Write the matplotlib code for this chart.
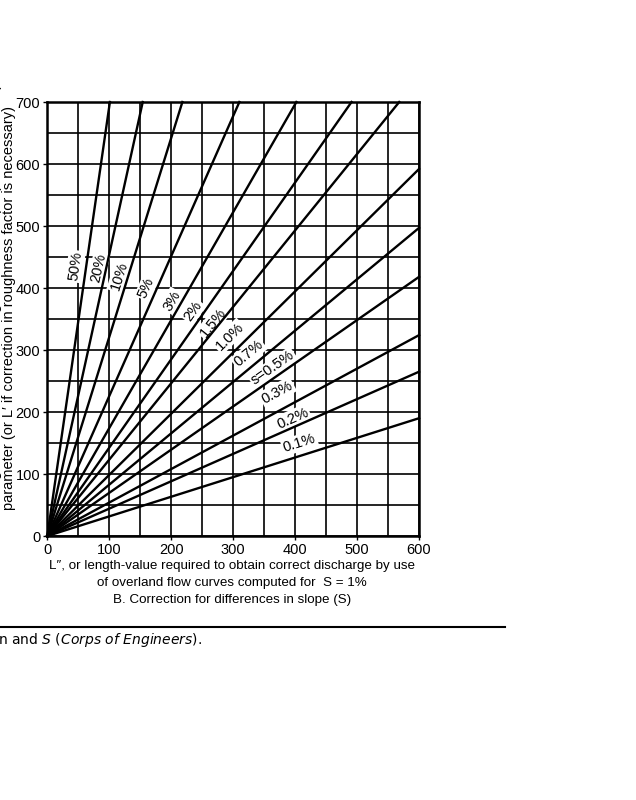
import numpy as np
import matplotlib.pyplot as plt
from matplotlib.lines import Line2D

plt.rcParams['font.family'] = ['Liberation Sans', 'DejaVu Sans']

# slope lines: where each one leaves the frame (L'', L)
slope_labels = ["50%", "20%", "10%", "5%", "3%", "2%", "1.5%", "1.0%",
                "0.7%", "s=0.5%", "0.3%", "0.2%", "0.1%"]
end_x = [101, 154, 218, 310, 402, 491, 568, 600, 600, 600, 600, 600, 600]
end_y = [700, 700, 700, 700, 700, 700, 700, 592, 497, 418, 324, 265, 190]
# where the slope labels sit
lab_x = [45, 83, 116, 160, 201, 235, 267, 294, 325, 364, 371, 396, 407]
lab_y = [435, 432, 419, 400, 379, 363, 344, 322, 294, 271, 232, 190, 150]

x_ticks = [0, 100, 200, 300, 400, 500, 600]
y_ticks = [0, 100, 200, 300, 400, 500, 600, 700]

fig = plt.figure(figsize=(6.36, 8.0), dpi=100)
ax = fig.add_axes([0.0744, 0.33, 0.5845, 0.5425])
ax.set_xlim(0, 600)
ax.set_ylim(0, 700)

ax.set_xticks(x_ticks)
ax.set_yticks(y_ticks)
ax.set_xticks(np.arange(0, 601, 50), minor=True)
ax.set_yticks(np.arange(0, 701, 50), minor=True)
ax.grid(which='both', color='black', linewidth=1.2, zorder=1)
ax.set_axisbelow(True)
ax.tick_params(which='minor', length=0)
ax.tick_params(which='major', length=3, width=1, labelsize=10.5, pad=2)
for s in ax.spines.values():
    s.set_linewidth(1.8)

for lab, xe, ye, xl, yl in zip(slope_labels, end_x, end_y, lab_x, lab_y):
    ax.plot([0, xe], [0, ye], color='black', linewidth=1.7, zorder=4,
            clip_on=False)
    ang = np.degrees(np.arctan2(ye, xe))
    ax.text(xl, yl, lab, rotation=ang, rotation_mode='anchor',
            ha='center', va='center', fontsize=10.5, zorder=3,
            bbox=dict(facecolor='white', edgecolor='none', pad=1.0))

# axis titles (the scan is cropped on the left)
fig.text(9 / 636, 1 - 308 / 800,
         "parameter (or L\u2032 if correction in roughness factor is necessary)",
         rotation=90, ha='center', va='center', fontsize=10.5)
fig.text(-5 / 636, 1 - 308 / 800,
         "L, or length of overland flow having the actual slope (as measured S)",
         rotation=90, ha='center', va='center', fontsize=10.5)

fig.text(232 / 636, 1 - 566 / 800,
         "L\u2033, or length-value required to obtain correct discharge by use",
         ha='center', va='center', fontsize=9.6)
fig.text(232 / 636, 1 - 583 / 800,
         "of overland flow curves computed for  S = 1%",
         ha='center', va='center', fontsize=9.6)
fig.text(232 / 636, 1 - 600 / 800,
         "B. Correction for differences in slope (S)",
         ha='center', va='center', fontsize=9.6)

# caption rule and fragment
fig.add_artist(Line2D([0, 505 / 636], [1 - 627 / 800, 1 - 627 / 800],
                      transform=fig.transFigure, color='black', linewidth=1.5))
fig.text(-2 / 636, 1 - 640 / 800,
         r"n and $\it{S}$ ($\it{Corps\ of\ Engineers}$).",
         ha='left', va='center', fontsize=10, family='DejaVu Sans')

fig.savefig("out.png", dpi=100)
